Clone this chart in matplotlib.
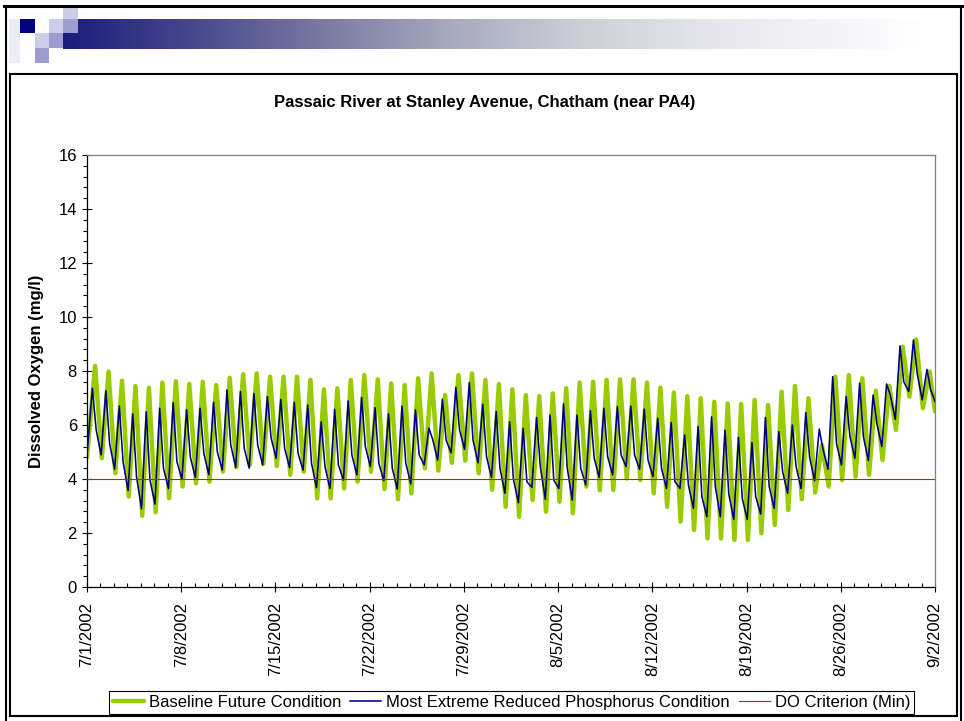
import numpy as np
import pandas as pd
import matplotlib
matplotlib.use("Agg")
import matplotlib.pyplot as plt
import matplotlib.dates as mdates
from matplotlib.patches import Rectangle
from matplotlib.ticker import FixedLocator, MultipleLocator
from matplotlib.colors import LinearSegmentedColormap

plt.rcParams['font.family'] = ['Liberation Sans', 'DejaVu Sans']

# ---------------- data ----------------
title = "Passaic River at Stanley Avenue, Chatham (near PA4)"
ylabel = "Dissolved Oxygen (mg/l)"
series_names = ["Baseline Future Condition",
                "Most Extreme Reduced Phosphorus Condition",
                "DO Criterion (Min)"]
start_date = "2002-07-01"
end_date = "2002-09-02"
tick_labels = ["7/1/2002", "7/8/2002", "7/15/2002", "7/22/2002", "7/29/2002",
               "8/5/2002", "8/12/2002", "8/19/2002", "8/26/2002", "9/2/2002"]
do_criterion = 4.0

# Baseline: daily minimum (early morning) and daily maximum (afternoon), 7/1 .. 9/1
base_min = [4.80, 4.77, 4.21, 3.35, 2.64, 2.77, 3.29, 3.72, 3.84, 3.90,
            4.27, 4.43, 4.52, 4.56, 4.48, 4.15, 4.27, 3.28, 3.28, 3.65,
            3.90, 4.27, 3.63, 3.25, 3.47, 4.40, 4.31, 4.60, 4.68, 4.21,
            3.60, 2.97, 2.60, 3.22, 2.79, 3.16, 2.73, 3.72, 3.58, 3.59,
            4.02, 3.96, 3.47, 2.97, 2.42, 2.11, 1.80, 1.80, 1.74, 1.74,
            1.99, 2.30, 2.85, 3.25, 3.50, 3.72, 3.96, 4.09, 4.15, 4.70,
            5.82, 7.05, 6.62]
base_max = [8.19, 7.98, 7.64, 7.44, 7.38, 7.57, 7.62, 7.52, 7.60, 7.48,
            7.75, 7.88, 7.91, 7.79, 7.79, 7.79, 7.67, 7.32, 7.36, 7.67,
            7.85, 7.69, 7.54, 7.48, 7.73, 7.91, 7.11, 7.85, 7.91, 7.67,
            7.52, 7.32, 7.11, 7.07, 7.17, 7.36, 7.57, 7.60, 7.67, 7.69,
            7.69, 7.57, 7.38, 7.20, 7.07, 6.99, 6.86, 6.80, 6.78, 6.93,
            6.74, 7.23, 7.44, 6.99, 5.26, 7.79, 7.85, 7.73, 7.27, 7.45,
            8.90, 9.17, 7.98]
base_end = 6.50

# Reduced phosphorus: daily minimum, sharp daily peak, and evening shoulder
red_min = [4.90, 4.89, 4.36, 3.57, 2.89, 3.07, 3.65, 3.99, 4.06, 4.15,
           4.33, 4.43, 4.40, 4.52, 4.77, 4.42, 4.33, 3.68, 3.65, 3.96,
           4.15, 4.46, 3.94, 3.63, 3.82, 4.52, 4.70, 4.97, 5.10, 4.60,
           4.06, 3.47, 3.12, 3.69, 3.25, 3.65, 3.22, 3.78, 4.06, 4.15,
           4.46, 4.36, 4.09, 3.65, 3.65, 2.91, 2.60, 2.60, 2.50, 2.50,
           2.70, 2.91, 3.47, 3.65, 3.94, 4.36, 4.52, 4.77, 4.68, 5.20,
           6.21, 7.24, 6.93]
red_max = [7.36, 7.27, 6.70, 6.41, 6.49, 6.62, 6.83, 6.56, 6.62, 6.84,
           7.30, 7.24, 7.17, 7.05, 6.95, 6.84, 6.74, 6.12, 6.58, 6.89,
           7.02, 6.64, 6.41, 6.70, 6.56, 5.88, 6.95, 7.40, 7.57, 6.77,
           6.50, 6.12, 5.88, 6.28, 6.37, 6.78, 6.37, 6.53, 6.62, 6.68,
           6.70, 6.59, 6.25, 6.09, 5.63, 5.94, 6.30, 5.81, 5.54, 5.35,
           6.28, 5.75, 6.00, 6.46, 5.85, 7.79, 7.05, 7.55, 7.11, 7.52,
           8.93, 9.15, 8.06]
red_shoulder = [5.82, 5.32, 4.64, 4.09, 3.96, 4.40, 4.64, 4.80, 4.95, 5.01,
                5.26, 5.14, 5.26, 5.51, 5.14, 4.95, 4.58, 4.46, 4.52, 4.89,
                5.20, 4.58, 4.40, 4.60, 4.89, 5.47, 5.44, 5.81, 5.44, 4.83,
                4.40, 3.99, 3.90, 4.45, 3.96, 4.40, 4.40, 4.77, 4.83, 4.89,
                4.89, 4.70, 4.40, 3.90, 3.78, 3.35, 3.72, 3.44, 3.28, 3.35,
                3.72, 4.27, 4.46, 4.83, 5.10, 5.32, 5.57, 5.57, 6.06, 7.11,
                7.60, 7.90, 7.30]
red_end = 6.87

# time of day (fraction of a day) at which each reading occurs
base_phase = [0.10, 0.60]
red_phase = [0.05, 0.40, 0.68]

# ---------------- build time series ----------------
t0 = pd.Timestamp(start_date)
t1 = pd.Timestamp(end_date)
ndays = len(base_min)


def build(values_lists, phases, end_value):
    times, vals = [], []
    for d in range(ndays):
        for vlist, ph in zip(values_lists, phases):
            times.append(t0 + pd.Timedelta(days=d + ph))
            vals.append(vlist[d])
    times[0] = t0
    times.append(t1)
    vals.append(end_value)
    return pd.DatetimeIndex(times), np.array(vals)


bt, bv = build([base_min, base_max], base_phase, base_end)
rt, rv = build([red_min, red_max, red_shoulder], red_phase, red_end)

# ---------------- figure ----------------
W, H = 964, 721
fig = plt.figure(figsize=(W / 100, H / 100), dpi=100)
fig.patch.set_facecolor("white")


def px_rect(x, y, w, h, color, lw=0, ec=None, fill=True, z=1):
    r = Rectangle((x / W, 1 - (y + h) / H), w / W, h / H, transform=fig.transFigure,
                  facecolor=color if fill else "none", edgecolor=ec if ec else "none",
                  linewidth=lw, zorder=z)
    fig.add_artist(r)


# header gradient bar
gx0, gx1, gy0, gy1 = 63, 930, 19, 49
gax = fig.add_axes([gx0 / W, 1 - gy1 / H, (gx1 - gx0) / W, (gy1 - gy0) / H])
stops = [(0.0, (28, 28, 124)), (0.15, (72, 72, 142)), (0.30, (122, 122, 162)),
         (0.45, (168, 170, 190)), (0.60, (205, 208, 215)), (0.75, (230, 230, 236)),
         (0.90, (246, 246, 250)), (1.0, (255, 255, 255))]
cmap = LinearSegmentedColormap.from_list("hdr", [(p, tuple(c / 255 for c in col)) for p, col in stops])
gax.imshow(np.linspace(0, 1, 512)[None, :], aspect="auto", cmap=cmap, extent=[0, 1, 0, 1])
gax.set_axis_off()

# header squares
light = "#cdcde8"
medium = "#9c9cd0"
px_rect(9, 19, 11, 44, "#ececf6")
px_rect(20, 19, 15, 14, "#000080")
px_rect(49, 19, 14, 14, light)
px_rect(63, 19, 15, 14, medium)
px_rect(63, 7, 15, 12, light)
px_rect(35, 33, 14, 15, light)
px_rect(49, 33, 14, 15, medium)
px_rect(35, 48, 14, 15, medium)

# slide border and chart-area border
fig.add_artist(plt.Line2D([4 / W, 962 / W], [1 - 6 / H, 1 - 6 / H], transform=fig.transFigure,
                          color="black", linewidth=2.2))
fig.add_artist(plt.Line2D([6 / W, 6 / W], [1 - 6 / H, 0], transform=fig.transFigure,
                          color="black", linewidth=1.5))
fig.add_artist(plt.Line2D([961 / W, 961 / W], [1 - 6 / H, 0], transform=fig.transFigure,
                          color="black", linewidth=1.5))
px_rect(10, 74, 947, 642, "white", lw=1.5, ec="black", fill=False, z=2)

# main axes
ax = fig.add_axes([87 / W, 1 - 587 / H, (935 - 87) / W, (587 - 155) / H])
ax.plot(bt, bv, color="#99cc00", linewidth=3.2, solid_joinstyle="round",
        solid_capstyle="round", zorder=2, label=series_names[0])
ax.plot(rt, rv, color="#000080", linewidth=1.15, solid_joinstyle="round", zorder=3,
        label=series_names[1])
ax.plot([t0, t1], [do_criterion, do_criterion], color="#ff0000", linewidth=0.8, zorder=4,
        label=series_names[2])

ax.set_xlim(t0, t1)
ax.set_ylim(0, 16)
tick_dates = pd.date_range(t0, t1, freq="7D")
ax.xaxis.set_major_locator(FixedLocator(mdates.date2num(tick_dates)))
ax.set_xticklabels(tick_labels, rotation=90, fontsize=12, va="top", ha="center")
ax.xaxis.set_minor_locator(FixedLocator(mdates.date2num(pd.date_range(t0, t1, freq="1D"))))
ax.yaxis.set_major_locator(MultipleLocator(2))
ax.yaxis.set_minor_locator(MultipleLocator(0.4))
ax.tick_params(axis="y", which="major", direction="inout", length=6.5, width=0.8,
               labelsize=12, pad=4.0)
ax.tick_params(axis="y", which="minor", direction="out", length=3, width=0.8)
ax.tick_params(axis="x", which="major", direction="inout", length=7, width=0.8, pad=7)
ax.tick_params(axis="x", which="minor", direction="in", length=3, width=0.8)
for s in ["left", "bottom"]:
    ax.spines[s].set_color("black")
    ax.spines[s].set_linewidth(0.9)
for s in ["top", "right"]:
    ax.spines[s].set_color("#808080")
    ax.spines[s].set_linewidth(0.9)

fig.text(485 / W, 1 - 103 / H, title, ha="center", va="center", fontsize=12, fontweight="bold")
fig.text(37 / W, 1 - 371 / H, ylabel, ha="center", va="center", rotation=90,
         fontsize=12, fontweight="bold")

handles, labels = ax.get_legend_handles_labels()
leg = fig.legend(handles, labels, loc="center", bbox_to_anchor=(511.5 / W, 1 - 702.5 / H),
                 ncol=3, frameon=True, fancybox=False, edgecolor="black", framealpha=1,
                 fontsize=12, borderpad=0.25, handlelength=1.85, handletextpad=0.3,
                 columnspacing=0.55, borderaxespad=0)
leg.get_frame().set_linewidth(0.8)

fig.savefig("out.png", dpi=100)
